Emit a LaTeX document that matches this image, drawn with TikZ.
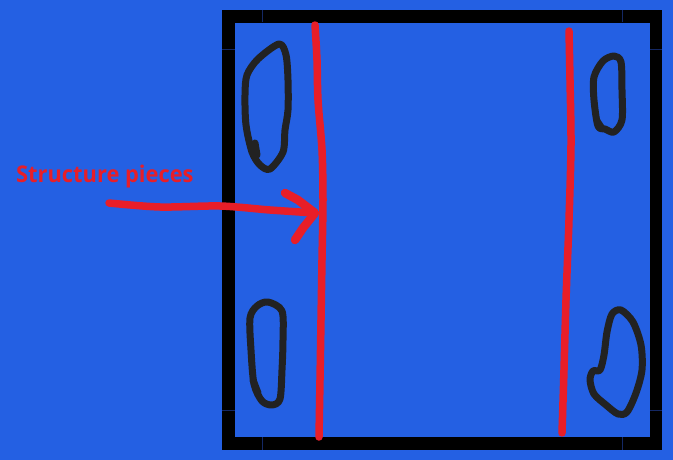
\documentclass[tikz,border=0pt]{standalone}
\usepackage{fontspec}
\setmainfont{Open Sans}
\definecolor{bgblue}{RGB}{36,96,227}
\definecolor{pen}{RGB}{232,30,40}
\definecolor{ink}{RGB}{34,34,34}
\definecolor{tick}{RGB}{20,40,100}
\begin{document}
\begin{tikzpicture}[x=1pt,y=-1pt,
  redpen/.style={draw=pen,line width=7.5,line cap=round,line join=round},
  blob/.style={draw=ink,line width=7,line cap=round,line join=round},
  frame/.style={draw=black,line width=12.8},
  tickline/.style={draw=tick,line width=0.8},
  lbl/.style={text=pen,font=\fontsize{23}{23}\selectfont\bfseries,inner sep=0,anchor=base west}]
\fill[bgblue] (0,0) rectangle (673,460);
\useasboundingbox (0,0) rectangle (673,460);
% frame
\draw[frame] (228.5,16.3) rectangle (656,443.5);
% tick marks
\draw[tickline] (262,10) -- (262,22);
\draw[tickline] (622,10) -- (622,22);
\draw[tickline] (262,437) -- (262,450);
\draw[tickline] (622,437) -- (622,450);
\draw[tickline] (222,49) -- (235,49);
\draw[tickline] (650,49) -- (662,49);
\draw[tickline] (222,410) -- (235,410);
\draw[tickline] (650,410) -- (662,410);
% red structure lines
\draw[redpen] plot[smooth] coordinates {(315,25) (317,60) (318,100) (322,150) (323,200) (322,260) (321,320) (320,380) (319,437)};
\draw[redpen] plot[smooth] coordinates {(569,31) (570,80) (571,145) (569,220) (566,300) (564,370) (562,433)};
% blobs
\draw[blob] plot[smooth cycle] coordinates {(279,44) (286,55) (288,80) (288,110) (285,130) (283,152) (270,169) (260,165) (252,152) (246,125) (245,95) (247,75) (258,59)};
\draw[blob] (255,143) -- (257,155);
\draw[blob] plot[smooth cycle] coordinates {(614,56) (621,62) (622,90) (622,120) (614,132) (605,129) (598,126) (594,100) (594,77) (603,61)};
\draw[blob] (597,121) -- (601,127);
\draw[blob] plot[smooth cycle] coordinates {(268,302) (282,311) (283,340) (282,370) (280,399) (272,405) (262,401) (254,384) (251,350) (250,318) (257,306)};
\draw[blob] (253,380) -- (258,393);
\draw[blob] plot[smooth cycle] coordinates {(621,310) (633,322) (641,345) (642,370) (636,393) (627,412) (618,414) (606,405) (594,394) (590,380) (593,371) (600,370) (604,355) (607,332) (612,314)};
% label and arrow
\node[lbl] (label) at (16,182.5) {\scalebox{0.95}[1]{Structure pieces}};
\coordinate (tail) at (109,203);
\coordinate (tip) at (315,213);
\coordinate (barbA) at (285,193);
\coordinate (barbB) at (295,240);
\draw[redpen] plot[smooth] coordinates {(tail) (160,207) (220,206) (270,210) (tip)};
\draw[redpen,line width=8.5] (barbA) -- (298,200) -- (tip) -- (303,228) -- (barbB);
\end{tikzpicture}
\end{document}
